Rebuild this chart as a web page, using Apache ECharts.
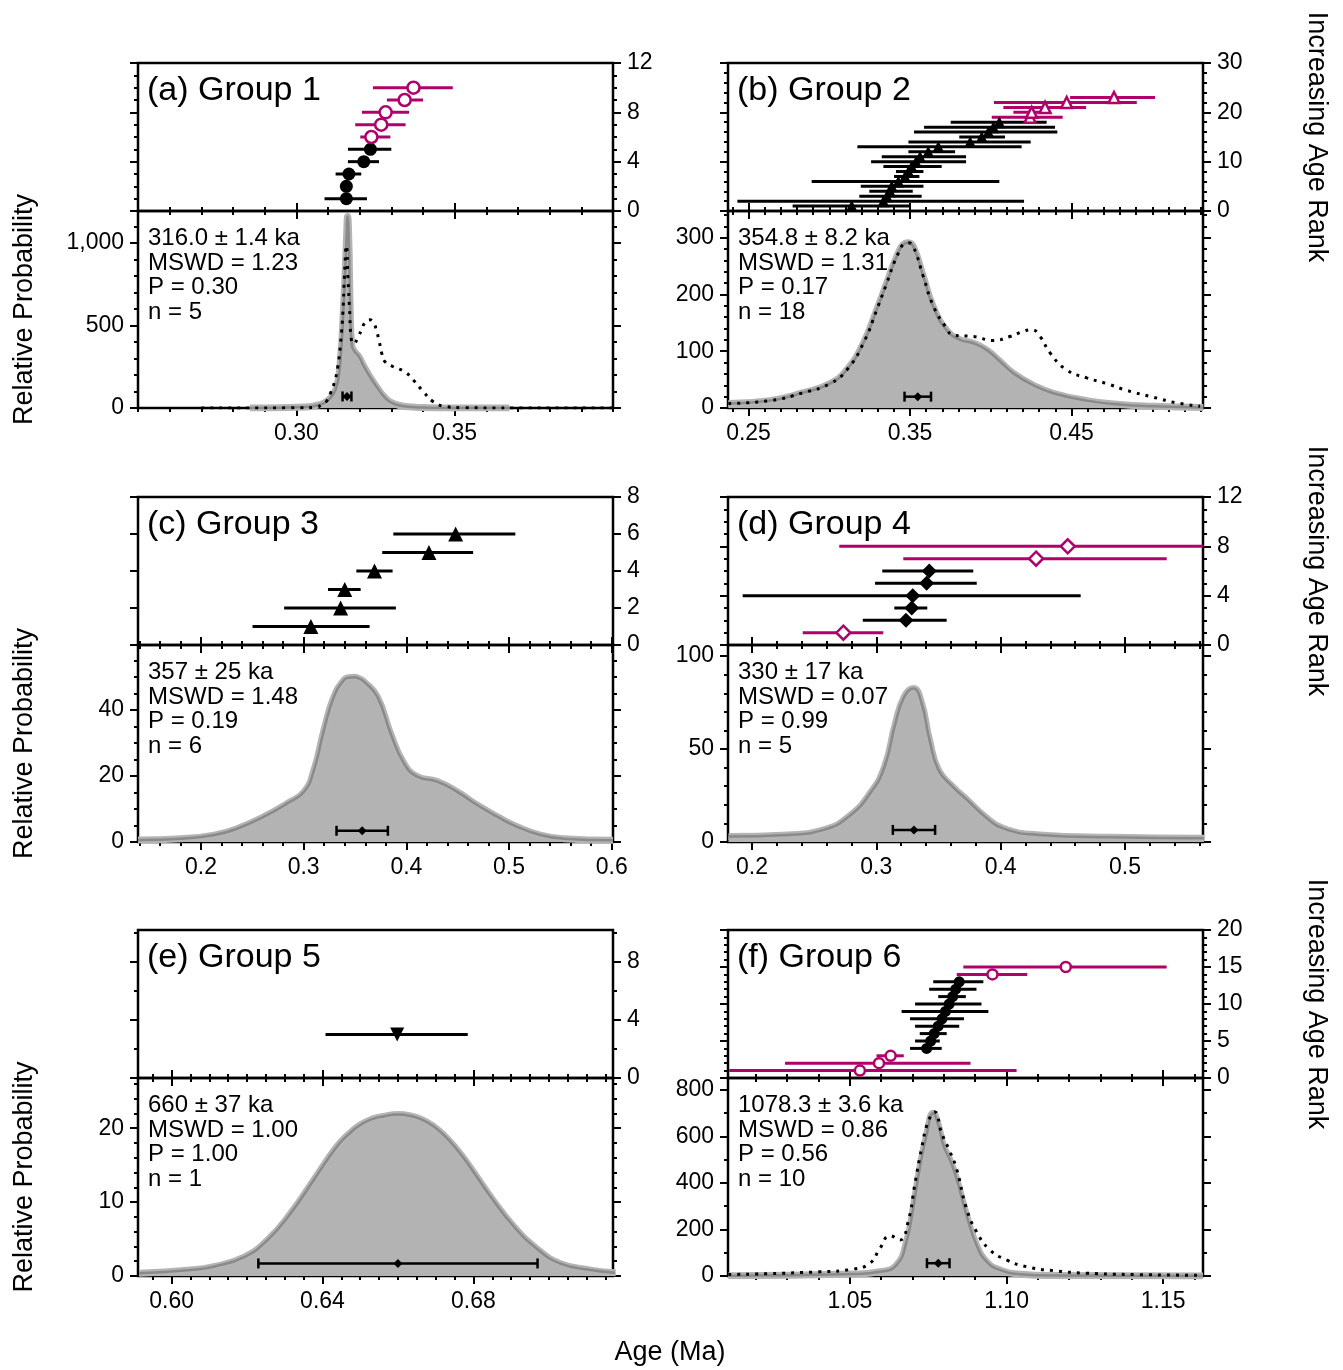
<!DOCTYPE html>
<html><head><meta charset="utf-8">
<script src="https://cdn.jsdelivr.net/npm/echarts@6/dist/echarts.min.js"></script>
<style>html,body{margin:0;padding:0;background:#fff}#c{width:1343px;height:1370px}</style>
</head><body><div id="c"></div>
<script>
// ================= DATA =================
// ---- (a) Group 1 ----
const g1Rank = [1,2,3,4,5,6,7,8,9,10];
const g1Age  = [0.3158,0.3158,0.3166,0.3213,0.3234,0.3237,0.3268,0.3282,0.3342,0.3370];
const g1Lo   = [0.3089,0.3145,0.3124,0.3163,0.3163,0.3202,0.3186,0.3207,0.3286,0.3242];
const g1Hi   = [0.3223,0.3172,0.3205,0.3261,0.3300,0.3297,0.3345,0.3356,0.3400,0.3494];
const g1Excluded = [0,0,0,0,0,1,1,1,1,1];
const g1PdfX = [0.2853,0.2948,0.3030,0.3074,0.3099,0.3124,0.3138,0.3150,0.3158,0.3162,0.3166,0.3170,0.3175,0.3183,0.3198,0.3211,0.3232,0.3253,0.3274,0.3295,0.3326,0.3366,0.3415,0.3495,0.3673];
const g1PdfY = [0,2,6,20,45,110,260,650,1000,1160,1000,600,380,345,310,260,190,130,75,38,15,6,2,0.5,0];
const g1AllX = [0.2700,0.3000,0.3063,0.3079,0.3095,0.3108,0.3121,0.3131,0.3141,0.3147,0.3152,0.3158,0.3163,0.3168,0.3174,0.3181,0.3195,0.3205,0.3216,0.3231,0.3243,0.3253,0.3261,0.3270,0.3280,0.3306,0.3342,0.3369,0.3401,0.3431,0.3474,0.3526,0.3700,0.4000];
const g1AllY = [0,1,4,20,40,90,160,250,420,580,800,985,790,600,410,390,430,470,515,535,520,470,410,330,280,250,220,170,100,40,8,2,0,0];

// ---- (b) Group 2 ----
const g2Rank = [1,2,3,4,5,6,7,8,9,10,11,12,13,14,15,16,17,18,19,20,21,22,23];
const g2Age  = [0.3139,0.3335,0.3356,0.3376,0.3387,0.3428,0.3469,0.3490,0.3510,0.3537,0.3562,0.3613,0.3675,0.3872,0.3944,0.3985,0.4016,0.4053,0.4243,0.4253,0.4336,0.4470,0.4763];
const g2Lo   = [0.2773,0.2431,0.3186,0.3248,0.3195,0.2891,0.3401,0.3413,0.3335,0.3259,0.3325,0.3490,0.3174,0.3490,0.3805,0.3525,0.3587,0.3752,0.4006,0.4140,0.4078,0.4020,0.4491];
const g2Hi   = [0.3496,0.4206,0.3572,0.3517,0.3583,0.4053,0.3558,0.3583,0.3696,0.3847,0.3847,0.3779,0.4191,0.4247,0.4088,0.4412,0.4398,0.4346,0.4445,0.4367,0.4590,0.4904,0.5017];
const g2Excluded = [0,0,0,0,0,0,0,0,0,0,0,0,0,0,0,0,0,0,1,1,1,1,1];
const g2PdfX = [0.2375,0.2633,0.2840,0.3005,0.3108,0.3211,0.3294,0.3356,0.3417,0.3469,0.3490,0.3521,0.3583,0.3644,0.3727,0.3810,0.3892,0.3975,0.4057,0.4140,0.4264,0.4387,0.4594,0.4800,0.5007,0.5316];
const g2PdfY = [8,13,27,43,67,114,173,220,266,290,291,284,231,178,137,120,114,102,82,61,40,26,13,6,3,1];
const g2AllX = [0.2375,0.2633,0.2840,0.3005,0.3108,0.3211,0.3294,0.3356,0.3417,0.3469,0.3490,0.3521,0.3583,0.3644,0.3727,0.3768,0.3892,0.4016,0.4119,0.4202,0.4253,0.4305,0.4367,0.4470,0.4594,0.4718,0.4842,0.5007,0.5151,0.5296];
const g2AllY = [8,13,27,43,67,114,173,220,266,290,291,284,231,180,140,128,126,119,126,135,138,126,97,67,53,43,31,19,9,3];

// ---- (c) Group 3 ----
const g3Rank = [1,2,3,4,5,6];
const g3Age  = [0.3070,0.3360,0.3400,0.3690,0.4220,0.4480];
const g3Lo   = [0.2502,0.2810,0.3237,0.3513,0.3765,0.3873];
const g3Hi   = [0.3642,0.3898,0.3555,0.3866,0.4650,0.5061];
const g3Excluded = [0,0,0,0,0,0];
const g3PdfX = [0.1387,0.1806,0.2130,0.2357,0.2615,0.2842,0.3004,0.3101,0.3198,0.3295,0.3393,0.3440,0.3490,0.3540,0.3587,0.3717,0.3846,0.3976,0.4106,0.4300,0.4495,0.4689,0.4883,0.5078,0.5304,0.5531,0.6012];
const g3PdfY = [0.6,1,2.1,4.1,7.7,11.7,15.2,21.8,33.9,44,49.1,49.8,49.9,49.5,48.6,44,32.9,23.8,19.8,18.3,15.2,11.2,7.7,4.6,2.1,1,0.5];

// ---- (d) Group 4 ----
const g4Rank = [1,2,3,4,5,6,7,8];
const g4Age  = [0.2735,0.3239,0.3285,0.3293,0.3405,0.3426,0.4285,0.4540];
const g4Lo   = [0.2408,0.2891,0.3145,0.1925,0.2990,0.3048,0.3217,0.2702];
const g4Hi   = [0.3056,0.3566,0.3410,0.4644,0.3808,0.3780,0.5336,0.6380];
const g4Excluded = [1,0,0,0,0,0,1,1];
const g4PdfX = [0.1811,0.2287,0.2576,0.2778,0.2951,0.3067,0.3154,0.3225,0.3298,0.3361,0.3428,0.3500,0.3615,0.3731,0.3875,0.4019,0.4308,0.4886,0.5636];
const g4PdfY = [2.9,3.8,6.5,13.6,26.2,40.5,63.8,78.1,82.6,75.4,54.8,38.7,29.7,22.6,13.6,7.3,3.8,2.5,2];

// ---- (e) Group 5 ----
const g5Rank = [3];
const g5Age  = [0.6598];
const g5Lo   = [0.6408];
const g5Hi   = [0.6785];
const g5Excluded = [0];
const g5PdfX = [0.5914,0.6050,0.6112,0.6194,0.6255,0.6316,0.6377,0.6438,0.6470,0.6499,0.6530,0.6561,0.6601,0.6630,0.6662,0.6693,0.6723,0.6755,0.6785,0.6846,0.6907,0.6968,0.7029,0.7111,0.7177];
const g5PdfY = [0.36,0.8,1.26,2.6,4.9,8.5,13.0,17.5,19.2,20.4,21.2,21.6,21.85,21.7,21.2,20.3,19.0,17.2,15.2,10.7,6.7,3.7,1.7,0.8,0.45];

// ---- (f) Group 6 ----
const g6Rank = [1,2,3,4,5,6,7,8,9,10,11,12,13,14,15];
const g6Age  = [1.0532,1.0593,1.0630,1.0745,1.0758,1.0769,1.0782,1.0794,1.0805,1.0817,1.0828,1.0838,1.0849,1.0955,1.1189];
const g6Lo   = [1.0115,1.0293,1.0585,1.0692,1.0708,1.0723,1.0708,1.0692,1.0665,1.0708,1.0782,1.0753,1.0766,1.0841,1.0862];
const g6Hi   = [1.1032,1.0885,1.0672,1.0793,1.0787,1.0809,1.0849,1.0864,1.0942,1.0920,1.0870,1.0904,1.0926,1.1066,1.1511];
const g6Excluded = [1,1,1,0,0,0,0,0,0,0,0,0,0,1,1];
const g6PdfX = [1.0112,1.0511,1.0596,1.0649,1.0681,1.0702,1.0723,1.0745,1.0766,1.0782,1.0798,1.0819,1.0840,1.0872,1.0904,1.0936,1.0979,1.1043,1.1149,1.1627];
const g6PdfY = [1.5,8.6,18,47,148,291,463,606,700,649,563,499,420,262,133,62,26,8,2,0];
const g6AllX = [1.0112,1.0404,1.0511,1.0564,1.0596,1.0628,1.0660,1.0686,1.0707,1.0729,1.0750,1.0771,1.0793,1.0819,1.0840,1.0872,1.0904,1.0947,1.1000,1.1064,1.1149,1.1255,1.1415,1.1627];
const g6AllY = [6,18,30,55,119,173,155,234,391,549,664,705,614,535,463,291,191,112,69,40,23,12,6,3];

// ---- weighted-mean summaries (lower panels) ----
const sumAge = [0.3160,0.3548,0.3570,0.3303,0.6600,1.0782];
const sumErr = [0.0014,0.0082,0.0250,0.0170,0.0370,0.0036];
const sumY   = [70,20,3.4,6.5,1.7,55];

// ---- annotation text ----
const groupNames = ['(a) Group 1','(b) Group 2','(c) Group 3','(d) Group 4','(e) Group 5','(f) Group 6'];
const statAge  = ['316.0 ± 1.4 ka','354.8 ± 8.2 ka','357 ± 25 ka','330 ± 17 ka','660 ± 37 ka','1078.3 ± 3.6 ka'];
const statMswd = ['MSWD = 1.23','MSWD = 1.31','MSWD = 1.48','MSWD = 0.07','MSWD = 1.00','MSWD = 0.86'];
const statP    = ['P = 0.30','P = 0.17','P = 0.19','P = 0.99','P = 1.00','P = 0.56'];
const statN    = ['n = 5','n = 18','n = 6','n = 5','n = 1','n = 10'];

// ---- tick labels ----
const ageLabels  = [[0.30,0.35],[0.25,0.35,0.45],[0.2,0.3,0.4,0.5,0.6],[0.2,0.3,0.4,0.5],[0.60,0.64,0.68],[1.05,1.10,1.15]];
const rankLabels = [[0,4,8,12],[0,10,20,30],[0,2,4,6,8],[0,4,8,12],[0,4,8],[0,5,10,15,20]];
const probLabels = [[0,500,1000],[0,100,200,300],[0,20,40],[0,50,100],[0,10,20],[0,200,400,600,800]];

// ================= LAYOUT / STYLE =================
const MAG = '#b0006a';
const FONT = '"Liberation Sans", Arial, Helvetica, sans-serif';
const colLeft = [138, 728], W = 475;
const rowTop = [63, 497, 930], UH = 148, rowBottom = [408, 842, 1276];
const axisCfg = [
  {xMin:0.25,   xMax:0.40,   xStep:0.01,  dec:2, rMax:12,   rStep:1, pMax:1194, pStep:100},
  {xMin:0.2373, xMax:0.5314, xStep:0.01,  dec:2, rMax:30,   rStep:2, pMax:347,  pStep:20},
  {xMin:0.1387, xMax:0.6012, xStep:0.02,  dec:1, rMax:8,    rStep:2, pMax:59.7, pStep:5},
  {xMin:0.1807, xMax:0.5628, xStep:0.02,  dec:1, rMax:12,   rStep:1, pMax:106,  pStep:10},
  {xMin:0.5911, xMax:0.7170, xStep:0.005, dec:2, rMax:10.2, rStep:2, pMax:26.8, pStep:2},
  {xMin:1.0111, xMax:1.1627, xStep:0.01,  dec:2, rMax:20,   rStep:1, pMax:851,  pStep:100}
];
const markerCfg = [
  {sym:'circle', size:13, rot:0}, {sym:'triangle', size:12, rot:0}, {sym:'triangle', size:15, rot:0},
  {sym:'diamond', size:15, rot:0}, {sym:'triangle', size:14, rot:180}, {sym:'circle', size:11, rot:0}
];
const groups = [
  {rank:g1Rank, age:g1Age, lo:g1Lo, hi:g1Hi, ex:g1Excluded, px:g1PdfX, py:g1PdfY, ax:g1AllX, ay:g1AllY},
  {rank:g2Rank, age:g2Age, lo:g2Lo, hi:g2Hi, ex:g2Excluded, px:g2PdfX, py:g2PdfY, ax:g2AllX, ay:g2AllY},
  {rank:g3Rank, age:g3Age, lo:g3Lo, hi:g3Hi, ex:g3Excluded, px:g3PdfX, py:g3PdfY, ax:null, ay:null},
  {rank:g4Rank, age:g4Age, lo:g4Lo, hi:g4Hi, ex:g4Excluded, px:g4PdfX, py:g4PdfY, ax:null, ay:null},
  {rank:g5Rank, age:g5Age, lo:g5Lo, hi:g5Hi, ex:g5Excluded, px:g5PdfX, py:g5PdfY, ax:null, ay:null},
  {rank:g6Rank, age:g6Age, lo:g6Lo, hi:g6Hi, ex:g6Excluded, px:g6PdfX, py:g6PdfY, ax:g6AllX, ay:g6AllY}
];

// ================= BUILD =================
function ticks(min, max, step) {
  const a = [];
  const k0 = Math.ceil(min / step - 1e-6), k1 = Math.floor(max / step + 1e-6);
  for (let k = k0; k <= k1; k++) a.push(+(k * step).toFixed(6));
  return a;
}
const option = {animation:false, backgroundColor:'#fff', grid:[], xAxis:[], yAxis:[], series:[], graphic:[]};
const tickLine = {color:'#000', width:2};
const labelStyle = {fontSize:23, color:'#000', fontFamily:FONT};

function addAxisPair(list, grid, min, max, position, minorVals, majorVals, labelVals, fmt, margin) {
  const base = {type:'value', gridIndex:grid, min:min, max:max, position:position,
    axisLine:{show:false}, splitLine:{show:false}, axisPointer:{show:false}};
  const idx = list.length;
  list.push(Object.assign({}, base, {
    axisTick:{show:true, inside:false, length:4, lineStyle:tickLine, customValues:minorVals},
    axisLabel:{show:false}}));
  list.push(Object.assign({}, base, {
    axisTick:{show:true, inside:false, length:8, lineStyle:tickLine, customValues:majorVals},
    axisLabel: labelVals ? Object.assign({show:true, customValues:labelVals, formatter:fmt, margin:margin}, labelStyle) : {show:false}}));
  return idx;
}

const SMOOTH = 0.5;
for (let p = 0; p < 6; p++) {
  const col = p % 2, row = Math.floor(p / 2);
  const left = colLeft[col], top = rowTop[row], div = top + UH, bot = rowBottom[row];
  const c = axisCfg[p], g = groups[p], m = markerCfg[p];
  const gu = option.grid.length;
  option.grid.push({left:left, top:top, width:W, height:UH, show:true, borderColor:'#000', borderWidth:2.5, backgroundColor:'transparent'});
  const gl = option.grid.length;
  option.grid.push({left:left, top:div, width:W, height:bot - div, show:true, borderColor:'#000', borderWidth:2.5, backgroundColor:'transparent'});

  const xMinor = ticks(c.xMin, c.xMax, c.xStep);
  const xMajor = ageLabels[p];
  const xFmt = v => v.toFixed(c.dec);
  const xu = addAxisPair(option.xAxis, gu, c.xMin, c.xMax, 'bottom', xMinor, xMajor, null);
  addAxisPair(option.xAxis, gu, c.xMin, c.xMax, 'top', xMinor, xMajor, null);
  const xl = addAxisPair(option.xAxis, gl, c.xMin, c.xMax, 'bottom', xMinor, xMajor, ageLabels[p], xFmt, 14);

  const rMinor = ticks(0, c.rMax, c.rStep);
  const yu = addAxisPair(option.yAxis, gu, 0, c.rMax, 'left', rMinor, rankLabels[p], null);
  addAxisPair(option.yAxis, gu, 0, c.rMax, 'right', rMinor, rankLabels[p], rankLabels[p], v => String(v), 14);
  const pMinor = ticks(0, c.pMax, c.pStep);
  const yl = addAxisPair(option.yAxis, gl, 0, c.pMax, 'left', pMinor, probLabels[p], probLabels[p], v => v.toLocaleString('en-US'), 14);
  addAxisPair(option.yAxis, gl, 0, c.pMax, 'right', pMinor, probLabels[p], null);

  // ---- upper: error bars ----
  option.series.push({
    type:'custom', xAxisIndex:xu, yAxisIndex:yu, clip:true, z:2,
    data: g.rank.map((r, i) => [r, g.lo[i], g.hi[i], g.ex[i]]),
    encode:{x:[1, 2], y:0},
    renderItem: function (params, api) {
      const y = api.value(0);
      const a = api.coord([api.value(1), y]);
      const b = api.coord([api.value(2), y]);
      return {type:'line', shape:{x1:a[0], y1:a[1], x2:b[0], y2:b[1]},
        style:{stroke: api.value(3) ? MAG : '#000', lineWidth:3}};
    }
  });
  // ---- upper: markers ----
  option.series.push({
    type:'scatter', xAxisIndex:xu, yAxisIndex:yu, z:3, clip:true,
    data: g.age.map((a, i) => ({
      value:[a, g.rank[i]], symbol:m.sym, symbolRotate:m.rot,
      symbolSize: g.ex[i] ? m.size - 1 : m.size,
      itemStyle: g.ex[i] ? {color:'#fff', borderColor:MAG, borderWidth:2.5, opacity:1} : {color:'#000', borderWidth:0, opacity:1}
    }))
  });

  // ---- lower: probability density (grey) ----
  const pdf = g.px.map((x, i) => [x, g.py[i]]);
  option.series.push({
    type:'line', xAxisIndex:xl, yAxisIndex:yl, z:1, data:pdf, showSymbol:false, symbol:'none',
    smooth:SMOOTH,
    lineStyle:{color:'#b4b4b4', width:7}, areaStyle:{color:'#b3b3b3', opacity:1}
  });
  option.series.push({
    type:'line', xAxisIndex:xl, yAxisIndex:yl, z:2, data:pdf, showSymbol:false, symbol:'none',
    smooth:SMOOTH,
    lineStyle:{color:'#8a8a8a', width:2.5}
  });
  if (g.ax) {
    option.series.push({
      type:'line', xAxisIndex:xl, yAxisIndex:yl, z:3, showSymbol:false, symbol:'none',
      data: g.ax.map((x, i) => [x, g.ay[i]]), smooth:SMOOTH,
      lineStyle:{color:'#000', width:3, type:[3, 6], cap:'butt'}
    });
  }
  // ---- lower: weighted mean with error ----
  option.series.push({
    type:'custom', xAxisIndex:xl, yAxisIndex:yl, z:4, clip:true,
    data:[[sumAge[p], sumErr[p], sumY[p]]],
    encode:{x:0, y:2},
    renderItem: function (params, api) {
      const age = api.value(0), err = api.value(1), yv = api.value(2);
      const a = api.coord([age - err, yv]);
      const b = api.coord([age + err, yv]);
      const st = {stroke:'#000', lineWidth:2.5};
      return {type:'group', children:[
        {type:'line', shape:{x1:a[0], y1:a[1], x2:b[0], y2:b[1]}, style:st},
        {type:'line', shape:{x1:a[0], y1:a[1] - 5, x2:a[0], y2:a[1] + 5}, style:st},
        {type:'line', shape:{x1:b[0], y1:b[1] - 5, x2:b[0], y2:b[1] + 5}, style:st}
      ]};
    }
  });
  option.series.push({
    type:'scatter', xAxisIndex:xl, yAxisIndex:yl, z:5, symbol:'diamond', symbolSize:9,
    itemStyle:{color:'#000', opacity:1}, data:[[sumAge[p], sumY[p]]]
  });

  // ---- texts ----
  option.graphic.push({type:'text', x:left + 9, y:top + 28, z:100,
    style:{text:groupNames[p], fontSize:34, fontFamily:FONT, fill:'#000', align:'left', verticalAlign:'middle'}});
  option.graphic.push({type:'text', x:left + 10, y:div + 15, z:100,
    style:{text:[statAge[p], statMswd[p], statP[p], statN[p]].join('\n'), fontSize:24, lineHeight:24.7,
      fontFamily:FONT, fill:'#000', align:'left', verticalAlign:'top'}});
}

for (let r = 0; r < 3; r++) {
  option.graphic.push({type:'text', x:25, y:(rowTop[r] + UH + rowBottom[r]) / 2, rotation:Math.PI / 2, z:100,
    style:{text:'Relative Probability', fontSize:27, fontFamily:FONT, fill:'#000', align:'center', verticalAlign:'middle'}});
  option.graphic.push({type:'text', x:1316, y:rowTop[r] + UH / 2, rotation:-Math.PI / 2, z:100,
    style:{text:'Increasing Age Rank', fontSize:27, fontFamily:FONT, fill:'#000', align:'center', verticalAlign:'middle'}});
}
option.graphic.push({type:'text', x:670, y:1353, z:100,
  style:{text:'Age (Ma)', fontSize:27, fontFamily:FONT, fill:'#000', align:'center', verticalAlign:'middle'}});

const chart = echarts.init(document.getElementById('c'));
chart.setOption(option);
</script>
</body></html>
